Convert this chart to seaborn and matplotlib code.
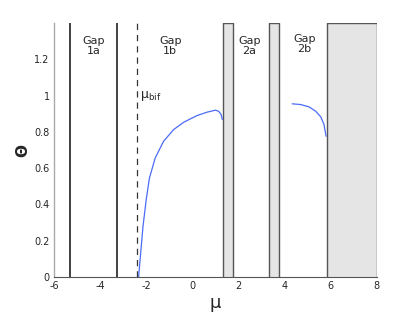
import numpy as np
import pandas as pd
import matplotlib
matplotlib.use('Agg')
import matplotlib.pyplot as plt
import seaborn as sns

# branch below the first band edge
mu_branch1 = [-2.33, -2.14, -2.0, -1.86, -1.61, -1.25, -0.81, -0.38, 0.20, 0.64, 1.0, 1.14, 1.25, 1.30]
theta_branch1 = [0.0, 0.278, 0.426, 0.546, 0.656, 0.748, 0.813, 0.853, 0.89, 0.909, 0.92, 0.914, 0.896, 0.868]

# branch in gap 2b
mu_branch2 = [4.33, 4.70, 5.06, 5.35, 5.57, 5.71, 5.80]
theta_branch2 = [0.955, 0.951, 0.938, 0.914, 0.883, 0.841, 0.776]

# band edges
edge_lines = [-5.29, -3.27]
mu_bif = -2.42
bands = [(1.32, 1.75), (3.32, 3.75), (5.84, 8.0)]

gap_labels = ['Gap\n1a', 'Gap\n1b', 'Gap\n2a', 'Gap\n2b']
gap_x = [-4.26, -0.96, 2.48, 4.86]

df1 = pd.DataFrame({'mu': mu_branch1, 'theta': theta_branch1})
df2 = pd.DataFrame({'mu': mu_branch2, 'theta': theta_branch2})

sns.set_style('white')
plt.rcParams['font.family'] = ['DejaVu Sans']

fig = plt.figure(figsize=(4.15, 3.12), dpi=100)
ax = fig.add_axes([0.130, 0.112, 0.778, 0.814])

# shaded bands
for a, b in bands:
    ax.fill_between([a, b], 0, 1.4, facecolor='#e5e5e5', edgecolor='none', zorder=1)
    ax.plot([a, a, b, b], [0, 1.4, 1.4, 0], color='#555555', lw=1.0, zorder=2)

for x in edge_lines:
    ax.axvline(x, color='#333333', lw=1.3, zorder=2)
ax.axvline(mu_bif, color='#333333', lw=0.9, ls=(0, (5, 4)), zorder=2)

sns.lineplot(data=df1, x='mu', y='theta', ax=ax, color='#4a6cf7', lw=0.9, sort=False, zorder=3)
sns.lineplot(data=df2, x='mu', y='theta', ax=ax, color='#4a6cf7', lw=0.9, sort=False, zorder=3)

for lab, x in zip(gap_labels, gap_x):
    y = 1.33 if lab != 'Gap\n2b' else 1.34
    ax.text(x, y, lab, ha='center', va='top', fontsize=8, linespacing=1.0)
ax.text(-2.25, 0.96, r'μ$_{\rm bif}$', fontsize=9, ha='left', va='bottom')

ax.set_xlim(-6, 8)
ax.set_ylim(0, 1.4)
ax.set_xticks(np.arange(-6, 9, 2))
ax.set_xticklabels([str(v) for v in range(-6, 9, 2)], fontsize=7)
ax.set_yticks([0, 0.2, 0.4, 0.6, 0.8, 1.0, 1.2])
ax.set_yticklabels(['0', '0.2', '0.4', '0.6', '0.8', '1', '1.2'], fontsize=7)
ax.tick_params(direction='in', length=3, width=0.6, color='#333333', pad=3)
ax.set_xlabel('μ', fontsize=13, labelpad=2)
ax.set_ylabel('Θ', fontsize=11, labelpad=3, rotation=90, fontweight='bold')

for s in ['top', 'right']:
    ax.spines[s].set_visible(False)
ax.spines['left'].set_color('#aaaaaa')
ax.spines['left'].set_linewidth(1.0)
ax.spines['bottom'].set_color('#555555')
ax.spines['bottom'].set_linewidth(0.8)

fig.savefig('out.png', dpi=100)
